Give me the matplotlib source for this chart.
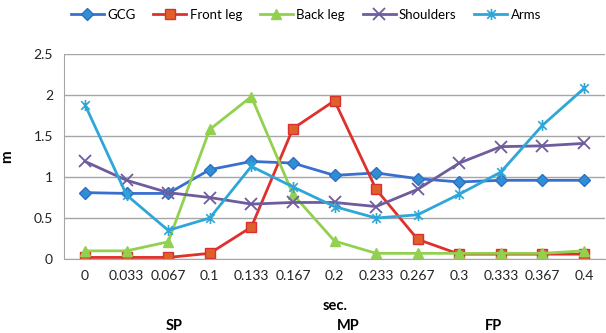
import numpy as np
import matplotlib
matplotlib.use("Agg")
import matplotlib.pyplot as plt
from matplotlib.path import Path

plt.rcParams['font.family'] = ['Lato', 'DejaVu Sans']

times = ["0", "0.033", "0.067", "0.1", "0.133", "0.167", "0.2",
         "0.233", "0.267", "0.3", "0.333", "0.367", "0.4"]
gcg = [0.81, 0.80, 0.80, 1.09, 1.19, 1.17, 1.02, 1.05, 0.98, 0.94, 0.96, 0.96, 0.96]
front_leg = [0.02, 0.02, 0.02, 0.07, 0.39, 1.59, 1.93, 0.85, 0.24, 0.06, 0.06, 0.06, 0.06]
back_leg = [0.10, 0.10, 0.21, 1.58, 1.98, 0.79, 0.22, 0.07, 0.07, 0.07, 0.07, 0.07, 0.10]
shoulders = [1.19, 0.96, 0.81, 0.75, 0.67, 0.69, 0.69, 0.64, 0.85, 1.17, 1.37, 1.38, 1.41]
arms = [1.88, 0.78, 0.35, 0.50, 1.13, 0.88, 0.64, 0.50, 0.54, 0.79, 1.06, 1.63, 2.08]

# star marker like excel: x with a vertical bar
star = Path([(-1, -1), (1, 1), (-1, 1), (1, -1), (0, -1.3), (0, 1.3)],
            [Path.MOVETO, Path.LINETO, Path.MOVETO, Path.LINETO, Path.MOVETO, Path.LINETO])

fig = plt.figure(figsize=(6.06, 3.33), dpi=100)
ax = fig.add_axes([0.106, 0.222, 0.892, 0.616])
x = np.arange(len(times))

ax.plot(x, gcg, color="#3a6fd0", lw=2, marker="D", ms=6, mfc="#2f8fd6", mec="#2f6fc0", label="GCG")
ax.plot(x, front_leg, color="#e0302c", lw=2, marker="s", ms=7.5, mfc="#e0602a", mec="#d83030", label="Front leg")
ax.plot(x, back_leg, color="#92d050", lw=2, marker="^", ms=7.5, mfc="#92d050", mec="#92d050", label="Back leg")
ax.plot(x, shoulders, color="#6e5c9e", lw=2, marker="x", ms=8, mew=1.3, label="Shoulders")
ax.plot(x, arms, color="#2ea6d8", lw=2, marker=star, ms=8, mew=1.2, mfc="none", label="Arms")

ax.set_xlim(-0.5, len(times) - 0.5)
ax.set_ylim(0, 2.5)
ax.set_yticks([0, 0.5, 1, 1.5, 2, 2.5])
ax.set_yticklabels(["0", "0.5", "1", "1.5", "2", "2.5"])
ax.set_xticks(x)
ax.set_xticklabels(times)
ax.tick_params(length=0, labelsize=10, colors="#222222", pad=8)
ax.grid(axis="y", color="#a6a6a6", lw=1)
ax.set_axisbelow(True)
for s in ["top", "right"]:
    ax.spines[s].set_visible(False)
for s in ["left", "bottom"]:
    ax.spines[s].set_color("#a6a6a6")

ax.set_ylabel("m", fontsize=11, fontweight="bold", labelpad=14)
fig.text(0.553, 0.08, "sec.", ha="center", va="center", fontsize=10.5, fontweight="bold")
fig.text(0.287, 0.02, "SP", ha="center", va="center", fontsize=10.5, fontweight="bold")
fig.text(0.574, 0.02, "MP", ha="center", va="center", fontsize=10.5, fontweight="bold")
fig.text(0.814, 0.02, "FP", ha="center", va="center", fontsize=10.5, fontweight="bold")

fig.legend(loc="center", bbox_to_anchor=(0.505, 0.955), ncol=5, frameon=False,
           fontsize=9.5, handlelength=2.5, columnspacing=1.35, handletextpad=0.25)

fig.savefig("out.png", dpi=100)
